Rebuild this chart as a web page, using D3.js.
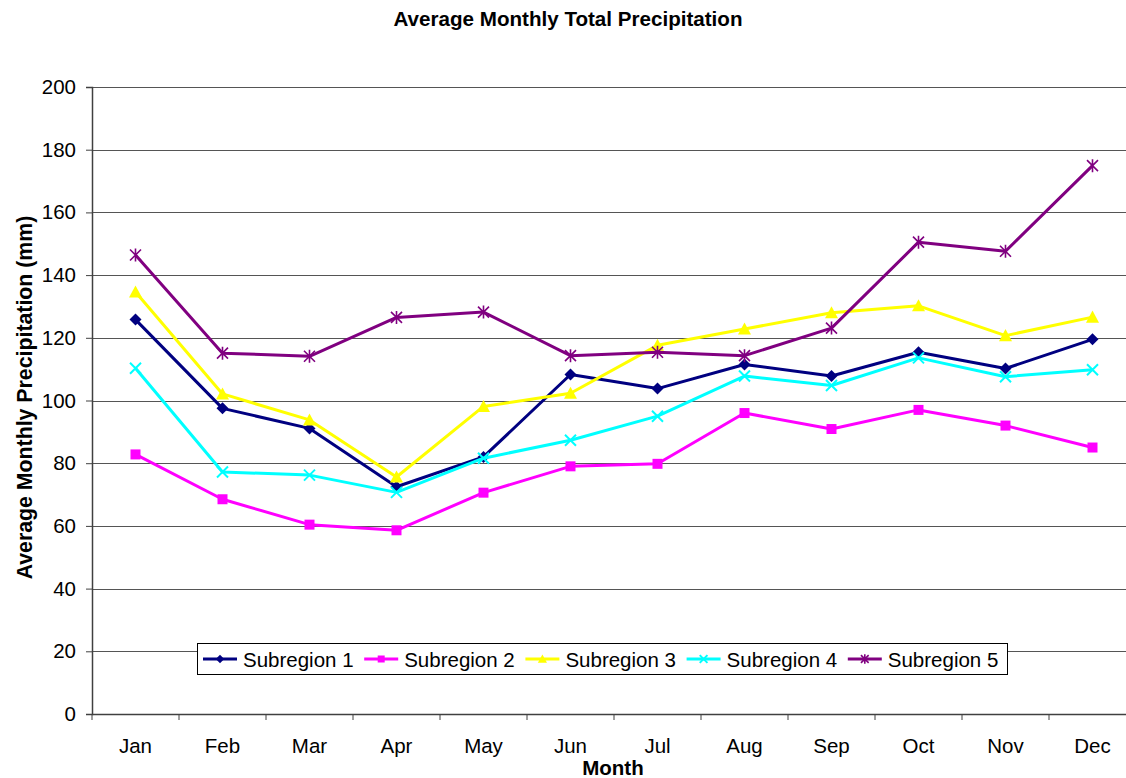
<!DOCTYPE html>
<html>
<head>
<meta charset="utf-8">
<script src="https://cdn.jsdelivr.net/npm/d3@7"></script>
<style>
  html, body { margin: 0; padding: 0; background: #fff; overflow: hidden; }
  svg { display: block; font-family: Arial, "Liberation Sans", sans-serif; }
</style>
</head>
<body>
<main></main>
<script>
const months = ['Jan', 'Feb', 'Mar', 'Apr', 'May', 'Jun', 'Jul', 'Aug', 'Sep', 'Oct', 'Nov', 'Dec']
const seriesNames = ['Subregion 1', 'Subregion 2', 'Subregion 3', 'Subregion 4', 'Subregion 5']
const sub1 = [125.8, 97.5, 91.1, 72.5, 82.0, 108.3, 103.8, 111.5, 107.8, 115.4, 110.2, 119.5]
const sub2 = [82.8, 68.5, 60.4, 58.6, 70.6, 79.0, 79.8, 96.0, 90.9, 97.0, 92.0, 85.0]
const sub3 = [134.6, 102.1, 93.8, 75.6, 98.1, 102.3, 117.6, 122.8, 128.0, 130.2, 120.7, 126.6]
const sub4 = [110.3, 77.2, 76.2, 70.7, 81.6, 87.3, 95.0, 107.8, 104.8, 113.6, 107.6, 109.8]
const sub5 = [146.4, 115.1, 114.1, 126.5, 128.2, 114.3, 115.4, 114.3, 123.1, 150.5, 147.6, 174.9]
const yTicks = [0, 20, 40, 60, 80, 100, 120, 140, 160, 180, 200]

const colors = ['#000080', '#ff00ff', '#ffff00', '#00ffff', '#800080']
const markers = ['diamond', 'square', 'triangle', 'cross', 'star']
const values = [sub1, sub2, sub3, sub4, sub5]

const W = 1126, H = 778
const margin = {top: 87, right: -10, bottom: 64, left: 92}
const width = W - margin.left - margin.right   // plot runs past the window edge
const height = H - margin.top - margin.bottom

const x = d3.scaleBand().domain(months).range([0, width])
const y = d3.scaleLinear().domain([0, 200]).range([height, 0])
const cx = d => x(d) + x.bandwidth() / 2

const svg = d3.select('main').append('svg')
  .attr('width', W)
  .attr('height', H)

svg.append('text')
  .attr('x', 568).attr('y', 25.5)
  .attr('text-anchor', 'middle')
  .attr('font-size', '20.6px').attr('font-weight', 'bold')
  .text('Average Monthly Total Precipitation')

const g = svg.append('g').attr('transform', `translate(${margin.left},${margin.top})`)

// gridlines
g.append('g')
  .selectAll('line')
  .data(yTicks.slice(1))
  .enter().append('line')
    .attr('x1', 0).attr('x2', width)
    .attr('y1', d => Math.round(y(d)) + 0.5).attr('y2', d => Math.round(y(d)) + 0.5)
    .attr('stroke', '#555').attr('stroke-width', 1)

// y axis
const yAxis = g.append('g')
  .call(d3.axisLeft(y).tickValues(yTicks).tickSize(6).tickPadding(10))
yAxis.select('.domain').attr('stroke', '#404040').attr('stroke-width', 1.5)
yAxis.selectAll('.tick line').attr('stroke', '#404040')
yAxis.selectAll('text').attr('font-size', '20.5px').attr('font-family', 'Arial, "Liberation Sans", sans-serif').attr('fill', '#000')

// x axis: labels at centres, ticks at band edges
const xAxis = g.append('g')
  .attr('transform', `translate(0,${height})`)
  .call(d3.axisBottom(x).tickSize(0).tickPadding(24))
xAxis.select('.domain').attr('stroke', '#404040').attr('stroke-width', 1.5)
xAxis.selectAll('text').attr('font-size', '20.5px').attr('font-family', 'Arial, "Liberation Sans", sans-serif').attr('fill', '#000')
xAxis.selectAll('.xedge')
  .data(months.map(d => x(d)))
  .enter().append('line')
    .attr('x1', d => d).attr('x2', d => d)
    .attr('y1', 0).attr('y2', 6)
    .attr('stroke', '#404040')

svg.append('text')
  .attr('x', 613).attr('y', 775)
  .attr('text-anchor', 'middle')
  .attr('font-size', '20.5px').attr('font-weight', 'bold')
  .text('Month')

svg.append('text')
  .attr('transform', `translate(32,${margin.top + height / 2 - 3}) rotate(-90)`)
  .attr('text-anchor', 'middle')
  .attr('font-size', '21.3px').attr('font-weight', 'bold')
  .text('Average Monthly Precipitation (mm)')

function marker(sel, type, color, s) {
  if (type === 'diamond') {
    const r = 6 * s
    sel.append('path').attr('d', `M0,${-r}L${r},0L0,${r}L${-r},0Z`).attr('fill', color)
  } else if (type === 'square') {
    const r = 5 * s
    sel.append('path').attr('d', `M${-r},${-r}H${r}V${r}H${-r}Z`).attr('fill', color)
  } else if (type === 'triangle') {
    const r = 6.5 * s
    sel.append('path').attr('d', `M0,${-r}L${r},${r * 0.85}L${-r},${r * 0.85}Z`).attr('fill', color)
  } else if (type === 'cross') {
    const r = 5.5 * s
    sel.append('path').attr('d', `M${-r},${-r}L${r},${r}M${-r},${r}L${r},${-r}`)
      .attr('stroke', color).attr('stroke-width', 2).attr('fill', 'none')
  } else {
    const r = 5.5 * s
    sel.append('path').attr('d', `M${-r},${-r}L${r},${r}M${-r},${r}L${r},${-r}M0,${-r - 1}L0,${r + 1}`)
      .attr('stroke', color).attr('stroke-width', 1.6).attr('fill', 'none')
  }
}

const line = d3.line().x(d => cx(d.m)).y(d => y(d.v))

seriesNames.forEach((name, i) => {
  const pts = months.map((m, j) => ({m, v: values[i][j]}))
  g.append('path')
    .datum(pts)
    .attr('d', line)
    .attr('fill', 'none')
    .attr('stroke', colors[i])
    .attr('stroke-width', 3)
    .attr('stroke-linejoin', 'round')
  g.append('g')
    .selectAll('g')
    .data(pts)
    .enter().append('g')
      .attr('transform', d => `translate(${cx(d.m)},${y(d.v)})`)
      .each(function () { marker(d3.select(this), markers[i], colors[i], 1) })
})

// legend
const legend = svg.append('g').attr('transform', 'translate(197,643)')
legend.append('rect')
  .attr('x', 0.5).attr('y', 0.5)
  .attr('width', 810).attr('height', 31)
  .attr('fill', '#fff').attr('stroke', '#000').attr('stroke-width', 1)

const item = legend.selectAll('.item')
  .data(seriesNames)
  .enter().append('g')
    .attr('transform', (d, i) => `translate(${6 + i * 161.2},16)`)

item.append('line')
  .attr('x1', 0).attr('x2', 34)
  .attr('stroke', (d, i) => colors[i])
  .attr('stroke-width', 3)
item.append('g')
  .attr('transform', 'translate(17,0)')
  .each(function (d, i) { marker(d3.select(this), markers[i], colors[i], 0.7) })
item.append('text')
  .attr('x', 40).attr('y', 7.5)
  .attr('font-size', '20.5px')
  .text(d => d)
</script>
</body>
</html>
